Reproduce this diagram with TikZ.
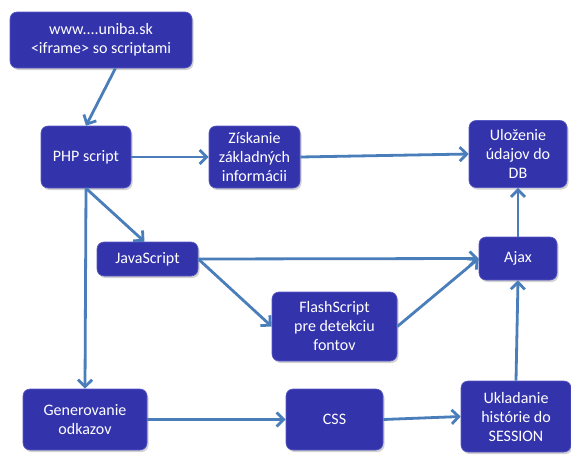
\documentclass[tikz,border=0pt]{standalone}
\usepackage{fontspec}
\setmainfont{Carlito}
\usepackage{tikz}
\usetikzlibrary{arrows.meta, shadows}

\definecolor{boxblue}{RGB}{51,51,172}
\definecolor{boxedge}{RGB}{88,88,196}
\definecolor{arrowblue}{RGB}{74,126,187}

\tikzset{
  blok/.style={draw=boxedge, line width=0.6pt, fill=boxblue, rounded corners=7pt,
    text=white, align=center, inner sep=0pt, font=\fontsize{16}{19}\selectfont,
    drop shadow={opacity=0.35, shadow xshift=1.5pt, shadow yshift=-2pt}},
  sipka/.style={draw=arrowblue, line width=2.8pt, -{Straight Barb[length=7pt, width=14pt]}}
}

\begin{document}
\begin{tikzpicture}[x=1pt, y=-1pt]
  \useasboundingbox[fill=white] (0,0) rectangle (571,455);

  % Nodes
  \node[blok, minimum width=182pt, minimum height=56pt] (www) at (101,40) {www....uniba.sk\\<iframe> so scriptami};
  \node[blok, minimum width=90pt, minimum height=62pt] (php) at (86,157) {PHP script};
  \node[blok, minimum width=91pt, minimum height=62pt] (ziskanie) at (254.5,157) {Získanie\\základných\\informácii};
  \node[blok, minimum width=98pt, minimum height=67pt] (ulozenie) at (518,154) {Uloženie\\údajov do\\DB};
  \node[blok, minimum width=101pt, minimum height=34pt] (js) at (147.5,259) {JavaScript};
  \node[blok, minimum width=78pt, minimum height=43pt] (ajax) at (518,258.5) {Ajax};
  \node[blok, minimum width=125pt, minimum height=69pt] (flash) at (334.5,326.5) {FlashScript\\pre detekciu\\fontov};
  \node[blok, minimum width=124pt, minimum height=61pt] (gen) at (85,419.5) {Generovanie\\odkazov};
  \node[blok, minimum width=97pt, minimum height=61pt] (css) at (334.5,419.5) {CSS};
  \node[blok, minimum width=110pt, minimum height=71pt] (ukl) at (516,416.5) {Ukladanie\\histórie do\\SESSION};

  % Arrows
  \draw[sipka] (www.297) -- (php.north);
  \draw[sipka] (php.east) -- (ziskanie.west);
  \draw[sipka] (ziskanie.east) -- (ulozenie.west);
  \draw[sipka] (php.south) -- (js.100);
  \draw[sipka] (php.south) -- (gen.north);
  \draw[sipka] (js.east) -- (ajax.west);
  \draw[sipka] (js.east) -- (flash.west);
  \draw[sipka] (flash.east) -- (ajax.west);
  \draw[sipka] (gen.east) -- (css.west);
  \draw[sipka] (css.east) -- (ukl.west);
  \draw[sipka] (ukl.north) -- (ajax.south);
  \draw[sipka] (ajax.north) -- (ulozenie.south);
\end{tikzpicture}
\end{document}
